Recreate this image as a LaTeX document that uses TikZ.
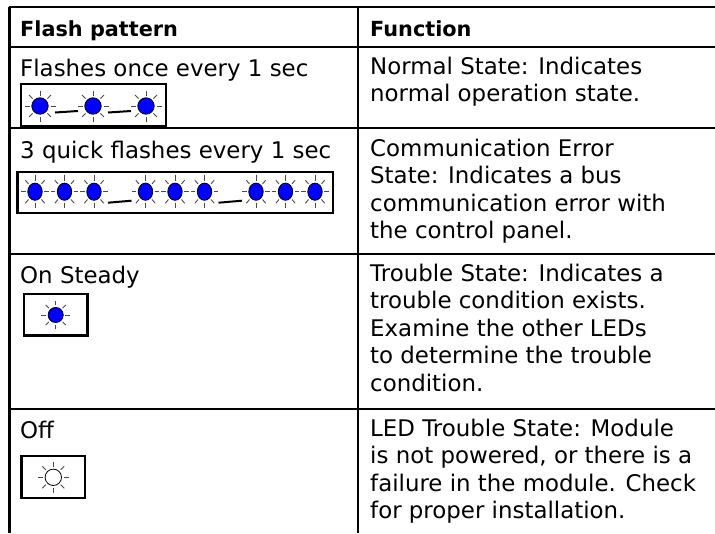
\documentclass[tikz,border=0pt]{standalone}
\usepackage{fontspec}
\setmainfont{DejaVu Sans}
\usetikzlibrary{calc}
\definecolor{ledblue}{HTML}{0000FF}
\definecolor{ray}{HTML}{4A4A4A}
\tikzset{
  rule/.style={draw=black, line width=2.4pt},
  frame/.style={draw=black, line width=2.2pt},
  gap/.style={draw=black, line width=2pt, line cap=butt},
  beam/.style={draw=ray, line width=0.9pt},
  cell/.style={anchor=north west, inner sep=0pt, align=left,
    font=\fontsize{22.9}{27.5}\selectfont, execute at begin node=\strut},
  head/.style={cell, font=\fontsize{20.8}{27.5}\selectfont\bfseries},
  led/.pic={
    \foreach \a in {0,45,...,315}
      \draw[beam] (\a:10.5) -- (\a:15.5);
    \draw[draw=black, line width=0.8pt, fill=#1] (0,0) circle (8.2);
  },
}
\begin{document}
\begin{tikzpicture}[x=1pt, y=-1pt]
  \useasboundingbox (0,0) rectangle (715,533);
  % grid
  \draw[rule] (9.3,7) -- (715,7);
  \draw[rule] (9.3,46.7) -- (715,46.7);
  \draw[rule] (9.3,128) -- (715,128);
  \draw[rule] (9.3,254) -- (715,254);
  \draw[rule] (9.3,409) -- (715,409);
  \draw[rule] (9.3,7) -- (9.3,533);
  \draw[rule] (358,7) -- (358,533);
  % header
  \node[head] (hpat) at (20,16.75) {Flash pattern};
  \node[head] (hfun) at (370,16.75) {Function};
  % normal
  \node[cell] (pnorm) at (20,56.75) {Flashes once every 1 sec};
  \node[cell] (fnorm) at (370,56.75) {Normal State: Indicates\\normal operation state.};
  \draw[frame] (21,84) rectangle (166,126.5);
  \coordinate (n1) at (40,106);
  \coordinate (n2) at (93,106);
  \coordinate (n3) at (146,106);
  \pic at (n1) {led=ledblue};
  \pic at (n2) {led=ledblue};
  \pic at (n3) {led=ledblue};
  \draw[gap] ($(n1)+(15,6.5)$) -- ($(n2)+(-15,5)$);
  \draw[gap] ($(n2)+(15,6.5)$) -- ($(n3)+(-15,5)$);
  % comm error
  \node[cell] (pcomm) at (20,138.75) {3 quick flashes every 1 sec};
  \node[cell] (fcomm) at (370,138.75) {Communication Error\\State: Indicates a bus\\communication error with\\the control panel.};
  \draw[frame] (17.5,172) rectangle (333,213);
  \foreach \g in {35,145.5,256}
    \foreach \k in {0,29.5,59}
      \pic[xscale=0.88, yscale=1.05] at (\g+\k,191.7) {led=ledblue};
  \coordinate (c3) at (94,191.7);
  \coordinate (c4) at (145.5,191.7);
  \coordinate (c6) at (204.5,191.7);
  \coordinate (c7) at (256,191.7);
  \draw[gap] ($(c3)+(14,11)$) -- ($(c4)+(-14,9)$);
  \draw[gap] ($(c6)+(14,11)$) -- ($(c7)+(-14,9)$);
  % trouble
  \node[cell] (ptrb) at (20,263.75) {On Steady};
  \node[cell] (ftrb) at (370,263.75) {Trouble State: Indicates a\\trouble condition exists.\\Examine the other LEDs\\to determine the trouble\\condition.};
  \draw[frame] (24,294) rectangle (87.5,335.5);
  \coordinate (s1) at (55.7,315);
  \pic[scale=0.92] at (s1) {led=ledblue};
  % off
  \node[cell] (poff) at (20,418.75) {Off};
  \node[cell] (foff) at (370,418.75) {LED Trouble State: Module\\is not powered, or there is a\\failure in the module. Check\\for proper installation.};
  \draw[frame] (21.5,456) rectangle (85,498.3);
  \coordinate (o1) at (53.3,477.3);
  \pic at (o1) {led=white};
\end{tikzpicture}
\end{document}
